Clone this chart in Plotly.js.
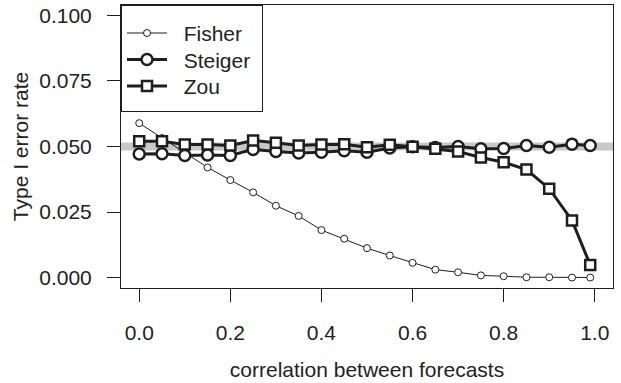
<!DOCTYPE html>
<html>
<head>
<meta charset="utf-8">
<script src="https://cdn.plot.ly/plotly-3.0.1.min.js"></script>
<style>html,body{margin:0;padding:0;background:#fff;}#chart{width:621px;height:383px;}</style>
</head>
<body>
<div id="chart"></div>
<script>
const correlation = [0, 0.05, 0.1, 0.15, 0.2, 0.25, 0.3, 0.35, 0.4, 0.45, 0.5, 0.55, 0.6, 0.65, 0.7, 0.75, 0.8, 0.85, 0.9, 0.95, 0.99];
const fisher = [0.0589, 0.0532, 0.0475, 0.0420, 0.0372, 0.0325, 0.0274, 0.0235, 0.0181, 0.0148, 0.0112, 0.0084, 0.0056, 0.0030, 0.0020, 0.0008, 0.0005, 0.0001, 0.0001, 0.0000, 0.0000];
const steiger = [0.0471, 0.0472, 0.0466, 0.0468, 0.0466, 0.0489, 0.0481, 0.0475, 0.0478, 0.0484, 0.0478, 0.0494, 0.0499, 0.0496, 0.0500, 0.0491, 0.0492, 0.0504, 0.0497, 0.0509, 0.0504];
const zou = [0.0520, 0.0520, 0.0508, 0.0508, 0.0504, 0.0523, 0.0514, 0.0504, 0.0508, 0.0509, 0.0497, 0.0507, 0.0499, 0.0491, 0.0481, 0.0458, 0.0440, 0.0412, 0.0339, 0.0218, 0.0048];
const seriesNames = ['Fisher', 'Steiger', 'Zou'];
const nominalAlpha = 0.05;
const xTicks = [0, 0.2, 0.4, 0.6, 0.8, 1.0];
const xTickLabels = ["0.0", "0.2", "0.4", "0.6", "0.8", "1.0"];
const yTicks = [0, 0.025, 0.05, 0.075, 0.1];
const yTickLabels = ["0.000", "0.025", "0.050", "0.075", "0.100"];

const ink = '#1e1e1e';
const font = {family: 'Liberation Sans, Arial, sans-serif', size: 21, color: '#222'};
const pad = s => '\u00a0\u00a0' + s + '\u00a0';

const traces = [
  {x: correlation, y: fisher, name: pad(seriesNames[0]), mode: 'lines+markers', type: 'scatter',
   line: {color: ink, width: 1},
   marker: {symbol: 'circle', size: 7, color: '#fff', line: {color: ink, width: 1}}},
  {x: correlation, y: steiger, name: pad(seriesNames[1]), mode: 'lines+markers', type: 'scatter',
   line: {color: ink, width: 3},
   marker: {symbol: 'circle', size: 11, color: '#fff', line: {color: ink, width: 2.5}}},
  {x: correlation, y: zou, name: pad(seriesNames[2]), mode: 'lines+markers', type: 'scatter',
   line: {color: ink, width: 3},
   marker: {symbol: 'square', size: 10, color: '#fff', line: {color: ink, width: 2.5}}}
];

const layout = {
  width: 621, height: 383,
  margin: {l: 121, r: 8, t: 5, b: 95},
  paper_bgcolor: '#fff', plot_bgcolor: '#fff',
  font: font,
  showlegend: true,
  legend: {x: 0, y: 1, xanchor: 'left', yanchor: 'top', bgcolor: '#fff',
    bordercolor: ink, borderwidth: 1, font: font, itemwidth: 40, tracegroupgap: 0},
  xaxis: {range: [-0.04, 1.04], tickvals: xTicks, ticktext: xTickLabels,
    ticks: 'outside', ticklen: 13, tickwidth: 1, tickcolor: ink,
    showgrid: false, zeroline: false, showline: true, linecolor: ink, linewidth: 1, mirror: true,
    tickfont: font, ticklabelstandoff: 13,
    title: {text: 'correlation between forecasts', font: font, standoff: 19}},
  yaxis: {range: [-0.004, 0.104], tickvals: yTicks, ticktext: yTickLabels,
    ticks: 'outside', ticklen: 13, tickwidth: 1, tickcolor: ink,
    showgrid: false, zeroline: false, showline: true, linecolor: ink, linewidth: 1, mirror: true,
    tickfont: font, ticklabelstandoff: 11,
    title: {text: 'Type I error rate', font: font, standoff: 4}},
  shapes: [{type: 'line', xref: 'paper', yref: 'y', x0: 0, x1: 1, y0: nominalAlpha, y1: nominalAlpha,
    line: {color: '#c8c8c8', width: 8}, layer: 'below'}]
};

Plotly.newPlot('chart', traces, layout, {displayModeBar: false, staticPlot: true}).then(gd => {
  // tighten legend row spacing to match the reference
  const items = gd.querySelectorAll('.legend .traces');
  const first = 28, step = 26.5;
  items.forEach((g, i) => {
    const m = /translate\(([^,]+),\s*([^)]+)\)/.exec(g.getAttribute('transform') || '');
    const tx = m ? parseFloat(m[1]) : 1;
    g.setAttribute('transform', 'translate(' + tx + ',' + (first + i * step) + ')');
  });
  const bg = gd.querySelector('.legend .bg');
  if (bg) bg.setAttribute('height', 106);
});
</script>
</body>
</html>
